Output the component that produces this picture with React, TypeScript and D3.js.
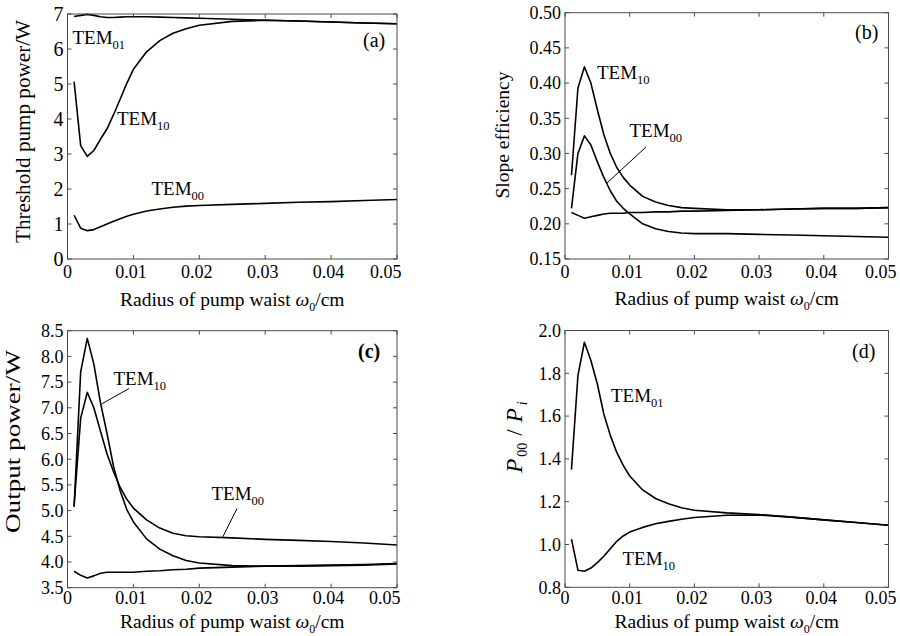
import React from 'react';
import * as d3 from 'd3';

// ---------- shared x data ----------
const xValues = [0.001, 0.002, 0.003, 0.004, 0.005, 0.006, 0.007, 0.008, 0.009, 0.010, 0.012, 0.014, 0.016, 0.018, 0.020, 0.025, 0.030, 0.035, 0.040, 0.045, 0.050];
const xTicks = [0, 0.01, 0.02, 0.03, 0.04, 0.05];
const xTickLabels = ['0', '0.01', '0.02', '0.03', '0.04', '0.05'];

// ---------- (a) threshold pump power ----------
const aTEM01 = [6.93, 6.96, 6.99, 6.96, 6.92, 6.90, 6.90, 6.91, 6.92, 6.92, 6.92, 6.91, 6.90, 6.89, 6.88, 6.85, 6.82, 6.80, 6.77, 6.745, 6.72];
const aTEM10 = [5.07, 3.24, 2.93, 3.10, 3.42, 3.72, 4.13, 4.57, 5.02, 5.42, 5.92, 6.24, 6.45, 6.58, 6.68, 6.79, 6.82, 6.80, 6.77, 6.745, 6.72];
const aTEM00 = [1.25, 0.88, 0.81, 0.84, 0.92, 1.00, 1.08, 1.15, 1.22, 1.28, 1.37, 1.43, 1.48, 1.51, 1.53, 1.56, 1.59, 1.62, 1.64, 1.67, 1.70];
const aYTicks = [0, 1, 2, 3, 4, 5, 6, 7];
const aYTickLabels = ['0', '1', '2', '3', '4', '5', '6', '7'];

// ---------- (b) slope efficiency ----------
const bTEM10 = [0.269, 0.393, 0.423, 0.400, 0.362, 0.327, 0.300, 0.280, 0.266, 0.255, 0.239, 0.231, 0.226, 0.223, 0.222, 0.220, 0.220, 0.221, 0.222, 0.222, 0.223];
const bTEM00 = [0.222, 0.300, 0.325, 0.312, 0.288, 0.266, 0.247, 0.232, 0.222, 0.214, 0.200, 0.193, 0.189, 0.187, 0.186, 0.186, 0.185, 0.184, 0.183, 0.182, 0.181];
const bTEM01 = [0.216, 0.212, 0.208, 0.210, 0.212, 0.214, 0.215, 0.215, 0.215, 0.216, 0.216, 0.217, 0.217, 0.218, 0.218, 0.219, 0.220, 0.221, 0.222, 0.222, 0.223];
const bYTicks = [0.15, 0.20, 0.25, 0.30, 0.35, 0.40, 0.45, 0.50];
const bYTickLabels = ['0.15', '0.20', '0.25', '0.30', '0.35', '0.40', '0.45', '0.50'];

// ---------- (c) output power ----------
const cTEM10 = [5.07, 7.70, 8.35, 7.85, 7.10, 6.50, 5.85, 5.38, 5.02, 4.78, 4.45, 4.25, 4.12, 4.03, 3.98, 3.93, 3.92, 3.92, 3.93, 3.94, 3.96];
const cTEM00 = [5.10, 6.80, 7.30, 7.00, 6.55, 6.10, 5.75, 5.45, 5.22, 5.05, 4.82, 4.66, 4.56, 4.51, 4.49, 4.47, 4.44, 4.42, 4.40, 4.37, 4.33];
const cTEM01 = [3.82, 3.74, 3.69, 3.73, 3.78, 3.80, 3.80, 3.80, 3.80, 3.80, 3.82, 3.83, 3.85, 3.86, 3.88, 3.90, 3.92, 3.93, 3.94, 3.95, 3.97];
const cYTicks = [3.5, 4.0, 4.5, 5.0, 5.5, 6.0, 6.5, 7.0, 7.5, 8.0, 8.5];
const cYTickLabels = ['3.5', '4.0', '4.5', '5.0', '5.5', '6.0', '6.5', '7.0', '7.5', '8.0', '8.5'];

// ---------- (d) power ratio ----------
const dTEM01 = [1.35, 1.79, 1.945, 1.86, 1.75, 1.61, 1.51, 1.43, 1.37, 1.32, 1.255, 1.215, 1.19, 1.172, 1.16, 1.148, 1.14, 1.128, 1.115, 1.103, 1.09];
const dTEM10 = [1.025, 0.88, 0.875, 0.89, 0.915, 0.945, 0.98, 1.015, 1.04, 1.058, 1.08, 1.097, 1.108, 1.118, 1.126, 1.137, 1.138, 1.128, 1.115, 1.103, 1.09];
const dYTicks = [0.8, 1.0, 1.2, 1.4, 1.6, 1.8, 2.0];
const dYTickLabels = ['0.8', '1.0', '1.2', '1.4', '1.6', '1.8', '2.0'];

const FONT = '"Liberation Serif", "Times New Roman", "DejaVu Serif", serif';
const FRAME = '#4a4a4a';
const TXT: React.CSSProperties = { fontFamily: FONT };

type PanelProps = {
  left: number; right: number; top: number; bottom: number;
  yDomain: [number, number];
  yTicks: number[]; yTickLabels: string[];
  series: number[][];
  xLabelBaseline: number;
  xTitleBaseline: number;
  lastLabelEnd: number;
  yTickFont?: number;
  children?: React.ReactNode;
};

function Panel(p: PanelProps) {
  const x = d3.scaleLinear().domain([0, 0.05]).range([p.left, p.right]);
  const y = d3.scaleLinear().domain(p.yDomain).range([p.bottom, p.top]);
  const line = d3.line<number>().x((_, i) => x(xValues[i])).y((d) => y(d)).curve(d3.curveLinear);
  const tl = 4;
  const cx = (p.left + p.right) / 2;
  const n = xTicks.length;
  return (
    <g>
      {p.series.map((s, i) => (
        <path key={i} d={line(s) || ''} fill="none" stroke="#000" strokeWidth={1.6} strokeLinejoin="round" />
      ))}
      <rect x={p.left} y={p.top} width={p.right - p.left} height={p.bottom - p.top} fill="none" stroke={FRAME} strokeWidth={1} />
      {xTicks.map((t, i) => (
        <g key={'x' + i}>
          <line x1={x(t)} x2={x(t)} y1={p.bottom} y2={p.bottom - tl} stroke={FRAME} />
          <line x1={x(t)} x2={x(t)} y1={p.top} y2={p.top + tl} stroke={FRAME} />
          {i === n - 1 ? (
            <text x={p.lastLabelEnd} y={p.xLabelBaseline} textAnchor="end" fontSize={18} style={TXT}>{xTickLabels[i]}</text>
          ) : (
            <text x={x(t) - (i === 0 ? 0 : 2.5)} y={p.xLabelBaseline} textAnchor="middle" fontSize={18} style={TXT}>{xTickLabels[i]}</text>
          )}
        </g>
      ))}
      {p.yTicks.map((t, i) => (
        <g key={'y' + i}>
          <line x1={p.left} x2={p.left + tl} y1={y(t)} y2={y(t)} stroke={FRAME} />
          <line x1={p.right} x2={p.right - tl} y1={y(t)} y2={y(t)} stroke={FRAME} />
          <text x={p.left - 4} y={y(t)} dy="0.35em" textAnchor="end" fontSize={p.yTickFont || 18} style={TXT}>{p.yTickLabels[i]}</text>
        </g>
      ))}
      <text x={cx} y={p.xTitleBaseline} textAnchor="middle" fontSize={19.5} style={TXT}>
        Radius of pump waist <tspan fontStyle="italic">ω</tspan><tspan fontSize={12} dy={5}>0</tspan><tspan dy={-5}>/cm</tspan>
      </text>
      {p.children}
    </g>
  );
}

function Tem({ x, y, sub, size = 19 }: { x: number; y: number; sub: string; size?: number }) {
  return (
    <text x={x} y={y} fontSize={size} style={TXT}>
      TEM<tspan fontSize={12.5} dy={5}>{sub}</tspan>
    </text>
  );
}

export default function App() {
  return (
    <svg width={900} height={636} style={{ position: 'absolute', left: 0, top: 0, background: '#fff' }}>
      <rect width={900} height={636} fill="#fff" />
      {/* (a) */}
      <Panel left={67.5} right={397} top={14} bottom={259} yDomain={[0, 7]} yTicks={aYTicks} yTickLabels={aYTickLabels}
        series={[aTEM01, aTEM10, aTEM00]} xLabelBaseline={278} xTitleBaseline={306} yTickFont={20} lastLabelEnd={401.5}>
        <text transform="translate(30,131.5) rotate(-90)" textAnchor="middle" fontSize={20} style={TXT} textLength={223} lengthAdjust="spacingAndGlyphs">Threshold pump power/W</text>
        <Tem x={72.5} y={43.5} sub="01" />
        <Tem x={117} y={125} sub="10" />
        <Tem x={151.5} y={195} sub="00" />
        <text x={363} y={46.5} fontSize={20} style={TXT}>(a)</text>
      </Panel>
      {/* (b) */}
      <Panel left={565} right={888.5} top={12.7} bottom={259} yDomain={[0.15, 0.5]} yTicks={bYTicks} yTickLabels={bYTickLabels}
        series={[bTEM10, bTEM00, bTEM01]} xLabelBaseline={278} xTitleBaseline={305} lastLabelEnd={896.5}>
        <text transform="translate(508.5,135) rotate(-90)" textAnchor="middle" fontSize={19.5} style={TXT} textLength={127} lengthAdjust="spacingAndGlyphs">Slope efficiency</text>
        <Tem x={597} y={79} sub="10" />
        <Tem x={629.5} y={136.5} sub="00" />
        <line x1={646} y1={147} x2={607} y2={183} stroke="#000" strokeWidth={1} />
        <text x={855} y={38.5} fontSize={20} style={TXT}>(b)</text>
      </Panel>
      {/* (c) */}
      <Panel left={67.5} right={397} top={330.7} bottom={587.7} yDomain={[3.5, 8.5]} yTicks={cYTicks} yTickLabels={cYTickLabels}
        series={[cTEM10, cTEM00, cTEM01]} xLabelBaseline={603.5} xTitleBaseline={628} lastLabelEnd={400.5}>
        <text transform="translate(19.5,441.5) rotate(-90)" textAnchor="middle" fontSize={20} style={TXT} textLength={183} lengthAdjust="spacingAndGlyphs">Output power/W</text>
        <Tem x={113.5} y={385} sub="10" />
        <line x1={129} y1={388.5} x2={101.5} y2={404} stroke="#000" strokeWidth={1} />
        <Tem x={211.5} y={499.5} sub="00" />
        <line x1={237} y1={508.5} x2={222.5} y2={537.5} stroke="#000" strokeWidth={1} />
        <text x={358} y={357.5} fontSize={20} fontWeight="bold" style={TXT}>(c)</text>
      </Panel>
      {/* (d) */}
      <Panel left={565} right={888.5} top={330.5} bottom={587.3} yDomain={[0.8, 2.0]} yTicks={dYTicks} yTickLabels={dYTickLabels}
        series={[dTEM01, dTEM10]} xLabelBaseline={603.5} xTitleBaseline={628} lastLabelEnd={896.5}>
        <text transform="translate(522,437) rotate(-90)" textAnchor="middle" fontSize={23} style={TXT}>
          <tspan fontStyle="italic">P</tspan><tspan fontSize={14} dy={5} dx={2}>00</tspan><tspan dy={-5} dx={7}>/</tspan><tspan fontStyle="italic" dx={7}>P</tspan><tspan fontSize={14} fontStyle="italic" dy={5} dx={3}>i</tspan>
        </text>
        <Tem x={611} y={401.5} sub="01" />
        <Tem x={622.5} y={565} sub="10" />
        <text x={852} y={357.5} fontSize={20} style={TXT}>(d)</text>
      </Panel>
    </svg>
  );
}
